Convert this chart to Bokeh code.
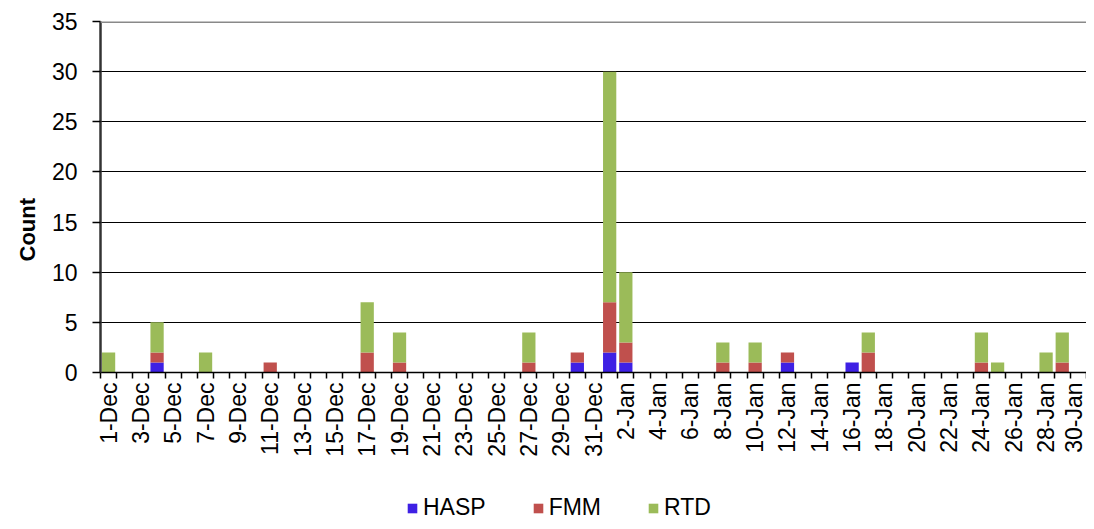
import math
from bokeh.plotting import figure
from bokeh.layouts import column
from bokeh.models import (Range1d, FixedTicker, Legend, LegendItem, Span, Title,
                          ColumnDataSource)
from bokeh.embed import file_html
from bokeh.resources import INLINE

# ---- data ----
days = [f"{d}-Dec" for d in range(1, 32)] + [f"{d}-Jan" for d in range(1, 31)]

HASP = [0, 0, 0, 1, 0, 0, 0, 0, 0, 0,
        0, 0, 0, 0, 0, 0, 0, 0, 0, 0,
        0, 0, 0, 0, 0, 0, 0, 0, 0, 1,
        0, 2, 1, 0, 0, 0, 0, 0, 0, 0,
        0, 0, 1, 0, 0, 0, 1, 0, 0, 0,
        0, 0, 0, 0, 0, 0, 0, 0, 0, 0,
        0]
FMM = [0, 0, 0, 1, 0, 0, 0, 0, 0, 0,
       1, 0, 0, 0, 0, 0, 2, 0, 1, 0,
       0, 0, 0, 0, 0, 0, 1, 0, 0, 1,
       0, 5, 2, 0, 0, 0, 0, 0, 1, 0,
       1, 0, 1, 0, 0, 0, 0, 2, 0, 0,
       0, 0, 0, 0, 1, 0, 0, 0, 0, 1,
       0]
RTD = [2, 0, 0, 3, 0, 0, 2, 0, 0, 0,
       0, 0, 0, 0, 0, 0, 5, 0, 3, 0,
       0, 0, 0, 0, 0, 0, 3, 0, 0, 0,
       0, 23, 7, 0, 0, 0, 0, 0, 2, 0,
       2, 0, 0, 0, 0, 0, 0, 2, 0, 0,
       0, 0, 0, 0, 3, 1, 0, 0, 2, 3,
       0]
series = ["HASP", "FMM", "RTD"]
colors = ["#3E20E4", "#C0504D", "#9BBB59"]
y_ticks = [0, 5, 10, 15, 20, 25, 30, 35]

FONT = "Liberation Sans"
TICK_FS = "23px"

n = len(days)
source = ColumnDataSource(dict(x=list(range(n)), HASP=HASP, FMM=FMM, RTD=RTD))

p = figure(width=1086, height=490, output_backend="svg",
           toolbar_location=None,
           x_range=Range1d(-0.5, n - 0.5), y_range=Range1d(0, 35),
           min_border_left=100, min_border_right=0, min_border_top=21,
           min_border_bottom=118)
p.outline_line_color = None
p.background_fill_color = "white"
p.border_fill_color = "white"

p.vbar_stack(series, x="x", width=0.82, color=colors, line_color=None, source=source)

# x axis: labels every 2nd day at centres, ticks at category boundaries
p.xaxis.ticker = FixedTicker(ticks=list(range(0, n, 2)),
                             minor_ticks=[i - 0.5 for i in range(n + 1)])
p.xaxis.major_label_overrides = {i: days[i] for i in range(0, n, 2)}
p.xaxis.major_label_orientation = math.pi / 2
p.xaxis.major_tick_line_color = None
p.xaxis.major_tick_out = 6
p.xaxis.major_tick_in = 0
p.xaxis.major_label_standoff = 4
p.xaxis.minor_tick_line_color = "black"
p.xaxis.minor_tick_line_width = 1.5
p.xaxis.minor_tick_out = 6
p.xaxis.minor_tick_in = 0
p.xaxis.axis_line_color = "black"
p.xaxis.axis_line_width = 1.5

# y axis
p.yaxis.ticker = FixedTicker(ticks=y_ticks)
p.yaxis.major_tick_out = 8
p.yaxis.major_tick_in = 0
p.yaxis.major_tick_line_color = "black"
p.yaxis.major_tick_line_width = 1.5
p.yaxis.minor_tick_line_color = None
p.yaxis.major_label_standoff = 15
p.yaxis.axis_line_color = "#333333"
p.yaxis.axis_line_width = 2.5

for ax in (p.xaxis, p.yaxis):
    ax.major_label_text_font = FONT
    ax.major_label_text_font_size = TICK_FS
    ax.major_label_text_color = "black"

p.xgrid.visible = False
p.ygrid.ticker = FixedTicker(ticks=y_ticks[1:-1])
p.ygrid.grid_line_color = "black"
p.ygrid.grid_line_width = 1

p.add_layout(Span(location=35, dimension="width", line_color="#898989", line_width=3))

# y axis title
p.add_layout(Title(text="Count", align="left", offset=111, text_font=FONT,
                   text_font_style="bold", text_font_size="22px",
                   text_color="black", standoff=18), "left")

# legend strip under the chart (same series, drawn outside its visible range)
leg = figure(width=1086, height=31, output_backend="svg", toolbar_location=None,
             x_axis_type=None, y_axis_type=None,
             x_range=Range1d(-0.5, n - 0.5), y_range=Range1d(100, 101), min_border=0)
leg.outline_line_color = None
leg.xgrid.visible = False
leg.ygrid.visible = False
swatches = leg.vbar_stack(series, x="x", width=0.82, color=colors, line_color=None,
                          source=source)
legend = Legend(items=[LegendItem(label=s, renderers=[r]) for s, r in zip(series, swatches)],
                location=(306, 0), orientation="horizontal",
                glyph_width=12, glyph_height=12,
                label_text_font=FONT, label_text_font_size="23px",
                label_text_color="black",
                label_standoff=5, spacing=46, padding=0, margin=0,
                border_line_color=None, background_fill_alpha=0)
leg.add_layout(legend, "center")

layout = column(p, leg, spacing=0)
open("out.html", "w").write(file_html(layout, INLINE))
